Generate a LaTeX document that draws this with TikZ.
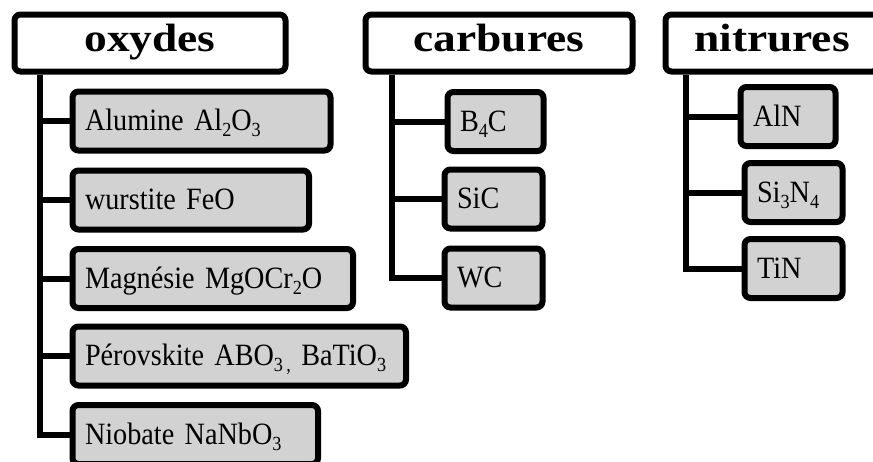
\documentclass[tikz,border=0pt]{standalone}
\usepackage{fontspec}
\setmainfont{Liberation Serif}
\newfontfamily\headfont{Liberation Serif}[FakeStretch=1.15]
\newfontfamily\itemfont{Liberation Serif}[FakeStretch=0.91]
\definecolor{boxgray}{RGB}{210,210,210}
% chemical subscript, set low and small
\newcommand{\dn}[1]{\raisebox{-6pt}{\fontsize{20}{20}\selectfont#1}}
\begin{document}
\begin{tikzpicture}[x=1pt,y=-1pt,
  head/.style={draw=black, line width=6pt, fill=white, rounded corners=6pt,
    minimum height=57pt, inner sep=0pt, text height=20pt, text depth=2.6pt,
    font=\headfont\fontsize{39.5}{44}\selectfont\bfseries},
  item/.style={draw=black, line width=6pt, fill=boxgray, rounded corners=6pt,
    minimum height=59pt, inner ysep=0pt, inner xsep=12.5pt,
    text height=21.5pt, text depth=2pt, anchor=west, align=left,
    text width=#1, font=\itemfont\fontsize{31}{34}\selectfont},
  branch/.style={draw=black, line width=6pt}]
\useasboundingbox (0,0) rectangle (873,461);
\clip (0,0) rectangle (873,461);

% trunk positions of the three trees
\coordinate (tox) at (40,0);
\coordinate (tca) at (392,0);
\coordinate (tni) at (686,0);

% category headers
\node[head, minimum width=271pt] (ox) at (150,43) {oxydes};
\node[head, minimum width=267pt] (ca) at (499,43) {carbures};
\node[head, minimum width=213pt] (ni) at (772,43) {nitrures};

% oxides
\node[item=233pt]   (o1) at (69.5,121) {Alumine Al\dn{2}O\dn{3}};
\node[item=211.5pt] (o2) at (69.5,200) {wurstite FeO};
\node[item=255.5pt] (o3) at (69.5,278.5) {Magnésie MgOCr\dn{2}O};
\node[item=308.5pt] (o4) at (69.5,356) {Pérovskite ABO\dn{3\,,}\ BaTiO\dn{3}};
\node[item=220.5pt] (o5) at (69.5,434.5) {Niobate NaNbO\dn{3}};

% carbides
\node[item=71pt] (c1) at (444.5,121.5) {B\dn{4}C};
\node[item=73pt] (c2) at (441.5,199) {SiC};
\node[item=73pt] (c3) at (441.5,278) {WC};

% nitrides
\node[item=70pt] (n1) at (737.5,116.5) {AlN};
\node[item=73pt] (n2) at (741.5,192.5) {Si\dn{3}N\dn{4}};
\node[item=73pt] (n3) at (741.5,268.5) {TiN};

% tree connectors
\foreach \k in {o1,o2,o3,o4,o5}
  \draw[branch] (ox.south -| tox) |- (\k.west);
\foreach \k in {c1,c2,c3}
  \draw[branch] (ca.south -| tca) |- (\k.west);
\foreach \k in {n1,n2,n3}
  \draw[branch] (ni.south -| tni) |- (\k.west);
\end{tikzpicture}
\end{document}
